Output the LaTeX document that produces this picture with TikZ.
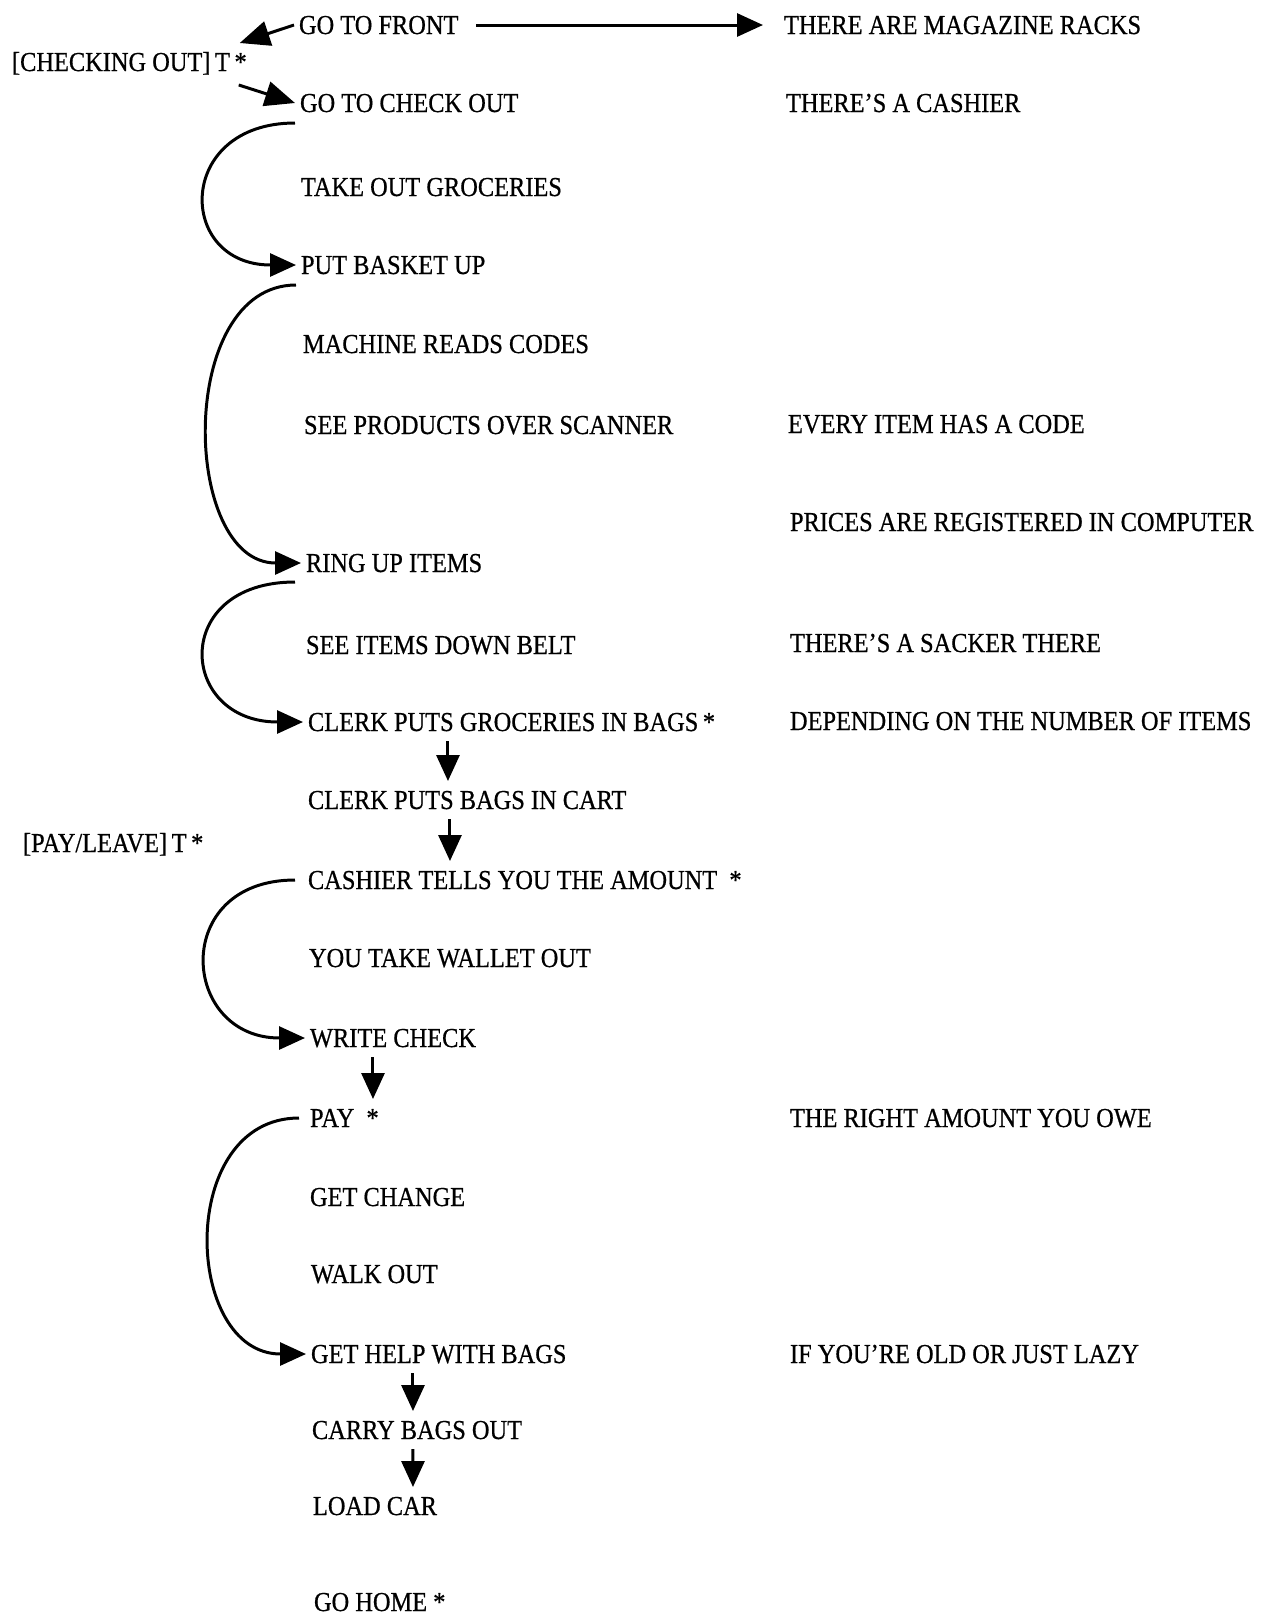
\documentclass[tikz,border=0pt]{standalone}
\usepackage{fontspec}
\setmainfont{Liberation Serif}[FakeStretch=0.89,FakeBold=0.6]
\usetikzlibrary{arrows.meta}

\tikzset{
  act/.style={anchor=west, inner sep=0pt, outer sep=0.1cm,
    text height=0.36cm, text depth=0pt, font=\fontsize{15.6}{18}\selectfont},
  arr/.style={-{Triangle[length=0.52cm,width=0.46cm]}, line width=1.7pt},
}

\begin{document}
\begin{tikzpicture}[x=0.02cm, y=-0.02cm]
  \useasboundingbox (0,0) rectangle (1267,1617);

  \node[act] (front) at (294,25) {GO TO FRONT};
  \node[act] (chk) at (7,62) {[CHECKING OUT]\,T\,*};
  \node[act] (co) at (295,103) {GO TO CHECK OUT};
  \node[act] (take) at (296,187) {TAKE OUT GROCERIES};
  \node[act] (basket) at (296,265) {PUT BASKET UP};
  \node[act] (reads) at (298,344) {MACHINE READS CODES};
  \node[act] (scan) at (299,425) {SEE PRODUCTS OVER SCANNER};
  \node[act] (ring) at (301,563) {RING UP ITEMS};
  \node[act] (belt) at (301,645) {SEE ITEMS DOWN BELT};
  \node[act] (bags) at (303,722) {CLERK PUTS GROCERIES IN BAGS\,*};
  \node[act] (cart) at (303,800) {CLERK PUTS BAGS IN CART};
  \node[act] (leave) at (18,843) {[PAY/LEAVE]\,T\,*};
  \node[act] (amount) at (303,880) {CASHIER TELLS YOU THE AMOUNT\ \ *};
  \node[act] (wallet) at (304,958) {YOU TAKE WALLET OUT};
  \node[act] (check) at (305,1038) {WRITE CHECK};
  \node[act] (pay) at (305,1118) {PAY\ \ *};
  \node[act] (change) at (305,1197) {GET CHANGE};
  \node[act] (walk) at (306,1274) {WALK OUT};
  \node[act] (help) at (306,1354) {GET HELP WITH BAGS};
  \node[act] (carry) at (307,1430) {CARRY BAGS OUT};
  \node[act] (load) at (308,1506) {LOAD CAR};
  \node[act] (home) at (309,1602) {GO HOME *};

  \node[act] (racks) at (779,25) {THERE ARE MAGAZINE RACKS};
  \node[act] (cashier) at (781,103) {THERE'S A CASHIER};
  \node[act] (code) at (783,424) {EVERY ITEM HAS A CODE};
  \node[act] (prices) at (785,522) {PRICES ARE REGISTERED IN COMPUTER};
  \node[act] (sacker) at (785,643) {THERE'S A SACKER THERE};
  \node[act] (number) at (785,721) {DEPENDING ON THE NUMBER OF ITEMS};
  \node[act] (owe) at (785,1118) {THE RIGHT AMOUNT YOU OWE};
  \node[act] (lazy) at (785,1354) {IF YOU'RE OLD OR JUST LAZY};

  \draw[arr, shorten <=0.26cm, shorten >=0.32cm] (front) -- (racks);
  \draw[arr, -{Triangle[length=0.6cm,width=0.5cm]}] (front.west) -- ([xshift=-0.24cm,yshift=0.1cm]chk.north east);
  \draw[arr, -{Triangle[length=0.6cm,width=0.5cm]}] ([xshift=-0.26cm,yshift=-0.18cm]chk.south east) -- (co.west);

  \draw[arr] ([yshift=-0.4cm]co.west) .. controls +(-120,0) and +(-120,0) .. (basket.west);
  \draw[arr] ([yshift=-0.4cm]basket.west) .. controls +(-120,0) and +(-120,0) .. (ring.west);
  \draw[arr] ([xshift=-0.12cm,yshift=-0.38cm]ring.west) .. controls +(-125,0) and +(-125,0) .. (bags.west);
  \draw[arr] ([xshift=-0.16cm]amount.west) .. controls +(-125,0) and +(-125,0) .. (check.west);
  \draw[arr] ([xshift=-0.12cm]pay.west) .. controls +(-123,0) and +(-123,0) .. (help.west);

  \draw[arr, shorten <=0.1cm, shorten >=0.1cm] ([xshift=2.9cm]bags.south west) -- ([xshift=2.9cm]cart.north west);
  \draw[arr, shorten <=0.1cm, shorten >=0.1cm] ([xshift=2.94cm]cart.south west) -- ([xshift=2.94cm]amount.north west);
  \draw[arr, shorten <=0.1cm, shorten >=0.1cm] ([xshift=1.36cm]check.south west) -- ([xshift=1.36cm]pay.north west);
  \draw[arr, shorten <=0.1cm, shorten >=0.1cm] ([xshift=2.14cm]help.south west) -- ([xshift=2.12cm]carry.north west);
  \draw[arr, shorten <=0.1cm, shorten >=0.1cm] ([xshift=2.12cm]carry.south west) -- ([xshift=2.1cm]load.north west);
\end{tikzpicture}
\end{document}
